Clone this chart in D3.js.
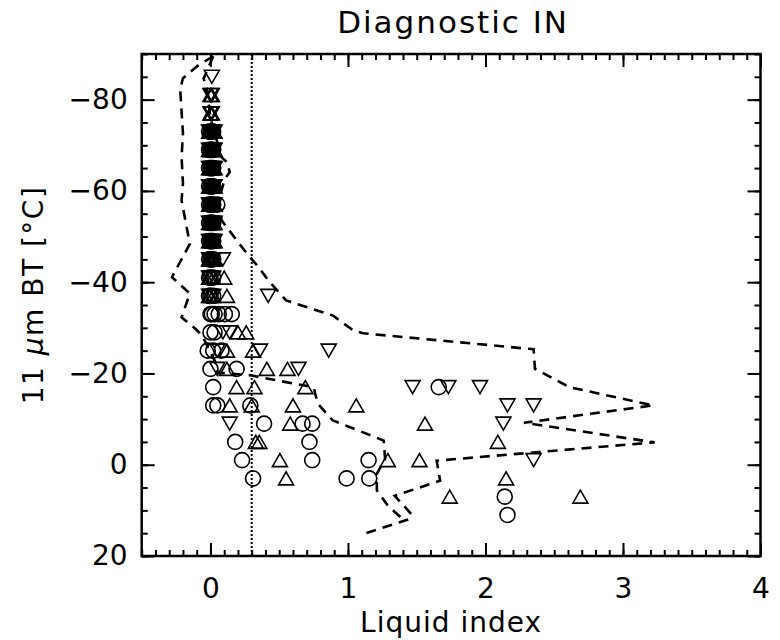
<!DOCTYPE html>
<html><head><meta charset="utf-8">
<script src="https://cdn.jsdelivr.net/npm/d3@7"></script>
<style>body{margin:0;background:#fff}svg text{font-family:"DejaVu Sans","Liberation Sans",sans-serif;font-weight:400;fill:#000}</style>
</head><body>
<svg id="chart" width="780" height="640"></svg>
<script>
// ---------- data ----------
const chartTitle = "Diagnostic IN";
const xTitle = "Liquid index";
const xDomain = [-0.5, 4];
const yDomain = [-90, 20];
const xMajorTicks = [0, 1, 2, 3, 4];
const yMajorTicks = [-80, -60, -40, -20, 0, 20];
const liquidThreshold = 0.3;

// circles
const circleX = [-0.01,0.00,0.01,0.02, -0.01,0.00,0.01,0.02, -0.01,0.00,0.01,0.02, -0.01,0.00,0.01,0.02,
  -0.01,0.00,0.01,0.02,0.05, -0.01,0.00,0.01,0.02, -0.01,0.00,0.01,0.02, -0.01,0.00,0.01,0.02,
  -0.01,0.00,0.02, -0.01,0.00,0.02, 0.00,0.01,0.03,0.06,0.105,0.155, 0.00,0.03, -0.02,0.02,0.08, 0.00,0.19, 0.02,1.66,
  0.02,0.05,0.29, 0.39,0.67,0.74, 0.18,0.72, 0.23,0.74,1.15, 0.31,0.99,1.155, 2.14, 2.16];
const circleY = [-73,-73,-73,-73, -69,-69,-69,-69, -65,-65,-65,-65, -61,-61,-61,-61,
  -57,-57,-57,-57,-57, -53,-53,-53,-53, -49,-49,-49,-49, -45,-45,-45,-45,
  -41,-41,-41, -37,-37,-37, -33,-33,-33,-33,-33,-33, -29,-29, -25,-25,-25, -21,-21, -17,-17,
  -13,-13,-13, -9,-9,-9, -5,-5, -1,-1,-1, 3,3,3, 7, 11];

// upward triangles
const upX = [0.00,0.01, 0.00,0.01, -0.01,0.00,0.01,0.02,0.03, -0.01,0.00,0.01,0.02,0.03, -0.01,0.00,0.01,0.02,0.03,
  -0.01,0.00,0.01,0.02,0.03, -0.01,0.00,0.01,0.02,0.03, -0.01,0.00,0.01,0.02,0.03, -0.01,0.00,0.01,0.02,0.03,
  -0.01,0.00,0.01,0.02,0.03, -0.01,0.00,0.02,0.10, -0.01,0.00,0.02,0.12,
  0.20,0.26, 0.12,0.31, 0.12,0.41,0.56, 0.19,0.32,0.69, 0.14,0.30,0.60,1.06, 0.58,1.56,
  0.33,0.355,2.09, 0.505,1.29,1.52, 0.55,2.15, 1.74,2.69];
const upY = [-81,-81, -77,-77, -73,-73,-73,-73,-73, -69,-69,-69,-69,-69, -65,-65,-65,-65,-65,
  -61,-61,-61,-61,-61, -57,-57,-57,-57,-57, -53,-53,-53,-53,-53, -49,-49,-49,-49,-49,
  -45,-45,-45,-45,-45, -41,-41,-41,-41, -37,-37,-37,-37,
  -29,-29, -25,-25, -21,-21,-21, -17,-17,-17, -13,-13,-13,-13, -9,-9,
  -5,-5,-5, -1,-1,-1, 3,3, 7,7];

// downward triangles
const downX = [0.01, 0.00,0.01, 0.00,0.01, -0.01,0.00,0.01,0.02,0.03, -0.01,0.00,0.01,0.02,0.03,
  -0.01,0.00,0.01,0.02,0.03, -0.01,0.00,0.01,0.02,0.03, -0.01,0.00,0.01,0.02,0.03, -0.01,0.00,0.01,0.02,0.03,
  -0.01,0.00,0.01,0.02,0.03, -0.01,0.00,0.01,0.02,0.09, -0.01,0.00,0.02, -0.01,0.00,0.02,0.42,
  0.09,0.14, 0.05,0.36,0.86, 0.05,0.64, 1.47,1.73,1.96, 2.16,2.35, 0.14,2.13, 2.35];
const downY = [-85, -81,-81, -77,-77, -73,-73,-73,-73,-73, -69,-69,-69,-69,-69,
  -65,-65,-65,-65,-65, -61,-61,-61,-61,-61, -57,-57,-57,-57,-57, -53,-53,-53,-53,-53,
  -49,-49,-49,-49,-49, -45,-45,-45,-45,-45, -41,-41,-41, -37,-37,-37,-37,
  -29,-29, -25,-25,-25, -21,-21, -17,-17,-17, -13,-13, -9,-9, -1];

// dashed envelopes
const leftEnvX = [0.02,-0.09,-0.20,-0.22,-0.20,-0.21,-0.20,-0.21,-0.15,-0.28,-0.15,-0.21,-0.11,-0.06,
  0.04,0.05,0.29,0.55,0.75,0.78,0.89,1.26,1.27,1.21,1.21,1.29,1.41];
const leftEnvY = [-89.5,-87.5,-84.7,-82.2,-72.6,-67.4,-61.6,-57.9,-48.4,-41.1,-37.5,-32.3,-29.8,-28.3,
  -22.2,-20.2,-19.6,-18.1,-17.0,-13.4,-9.7,-5.3,-1.3,2.0,5.6,9.0,12.2];
const rightEnvX = [0.02,-0.05,-0.03,0.00,0.08,0.12,0.14,0.105,0.06,0.08,0.19,0.275,0.35,0.42,0.55,
  0.89,1.04,1.11,2.35,2.36,2.61,3.22,2.28,3.23,1.645,1.67,1.34,1.46,1.45,1.11];
const rightEnvY = [-89.5,-84.6,-83.0,-76.0,-67.4,-66.3,-64.1,-62.7,-58.0,-53.6,-49.2,-45.9,-43.3,-40.4,-36.0,
  -32.7,-29.4,-28.8,-25.3,-21.0,-17.0,-13.0,-9.2,-4.9,-0.9,3.5,6.8,10.8,11.9,15.2];

// ---------- drawing ----------
const svg = d3.select("#chart");
const L = 141.7, R = 760.5, T = 54, B = 556;
const x = d3.scaleLinear().domain(xDomain).range([L, R]);
const y = d3.scaleLinear().domain(yDomain).range([T, B]);

const xMinorTicks = d3.range(-5, 41).map(i => i / 10);
const yMinorTicks = d3.range(-90, 21, 5);
const MAJ = 13, MIN = 6;

function styleAxis(g) {
  g.select(".domain").remove();
  g.selectAll(".tick line").attr("stroke", "#000").attr("stroke-width", 2);
}
// bottom
svg.append("g").attr("transform", `translate(0,${B})`)
  .call(d3.axisBottom(x).tickValues(xMinorTicks).tickSize(-MIN).tickFormat("")).call(styleAxis);
svg.append("g").attr("transform", `translate(0,${B})`)
  .call(d3.axisBottom(x).tickValues(xMajorTicks).tickSize(-MAJ).tickPadding(22).tickFormat(d3.format("d")))
  .call(styleAxis)
  .call(g => g.selectAll("text").attr("font-size", 28).attr("fill", "#000").attr("font-family", null));
// top
svg.append("g").attr("transform", `translate(0,${T})`)
  .call(d3.axisTop(x).tickValues(xMinorTicks).tickSize(-MIN).tickFormat("")).call(styleAxis);
svg.append("g").attr("transform", `translate(0,${T})`)
  .call(d3.axisTop(x).tickValues(xMajorTicks).tickSize(-MAJ).tickFormat("")).call(styleAxis);
// left
svg.append("g").attr("transform", `translate(${L},0)`)
  .call(d3.axisLeft(y).tickValues(yMinorTicks).tickSize(-MIN).tickFormat("")).call(styleAxis);
svg.append("g").attr("transform", `translate(${L},0)`)
  .call(d3.axisLeft(y).tickValues(yMajorTicks).tickSize(-MAJ).tickPadding(14)
    .tickFormat(d => d < 0 ? "\u2212" + Math.abs(d) : String(d)))
  .call(styleAxis)
  .call(g => g.selectAll("text").attr("font-size", 28).attr("fill", "#000").attr("font-family", null));
// right
svg.append("g").attr("transform", `translate(${R},0)`)
  .call(d3.axisRight(y).tickValues(yMinorTicks).tickSize(-MIN).tickFormat("")).call(styleAxis);
svg.append("g").attr("transform", `translate(${R},0)`)
  .call(d3.axisRight(y).tickValues(yMajorTicks).tickSize(-MAJ).tickFormat("")).call(styleAxis);

// frame
svg.append("rect").attr("x", L).attr("y", T).attr("width", R - L).attr("height", B - T)
  .attr("fill", "none").attr("stroke", "#000").attr("stroke-width", 2.5);

// dotted threshold
svg.append("line").attr("x1", x(liquidThreshold)).attr("x2", x(liquidThreshold))
  .attr("y1", T).attr("y2", B).attr("stroke", "#000").attr("stroke-width", 2)
  .attr("stroke-dasharray", "2,2");

// markers
const mk = svg.append("g").attr("fill", "none").attr("stroke", "#000").attr("stroke-width", 1.6);
const circles = circleX.map((v, i) => ({x: v, y: circleY[i]}));
const ups = upX.map((v, i) => ({x: v, y: upY[i]}));
const downs = downX.map((v, i) => ({x: v, y: downY[i]}));
mk.selectAll("circle").data(circles).join("circle")
  .attr("cx", d => x(d.x)).attr("cy", d => y(d.y)).attr("r", 7.5);
const hw = 7.5, hh = 6.5;
mk.selectAll("path.up").data(ups).join("path").attr("class", "up")
  .attr("d", d => { const cx = x(d.x), cy = y(d.y);
    return `M${cx - hw},${cy + hh}L${cx + hw},${cy + hh}L${cx},${cy - hh}Z`; });
mk.selectAll("path.down").data(downs).join("path").attr("class", "down")
  .attr("d", d => { const cx = x(d.x), cy = y(d.y);
    return `M${cx - hw},${cy - hh}L${cx + hw},${cy - hh}L${cx},${cy + hh}Z`; });

// dashed envelopes
const line = d3.line().x(d => x(d[0])).y(d => y(d[1]));
[[leftEnvX, leftEnvY], [rightEnvX, rightEnvY]].forEach(([xs, ys]) => {
  svg.append("path").datum(xs.map((v, i) => [v, ys[i]]))
    .attr("d", line).attr("fill", "none").attr("stroke", "#000")
    .attr("stroke-width", 2.6).attr("stroke-dasharray", "10,7");
});

// titles
svg.append("text").attr("x", (L + R) / 2 + 2).attr("y", 33).attr("text-anchor", "middle")
  .attr("font-size", 31).attr("letter-spacing", 2).text(chartTitle);
svg.append("text").attr("x", (L + R) / 2).attr("y", 632).attr("text-anchor", "middle")
  .attr("font-size", 28).attr("letter-spacing", 1).text(xTitle);
const yt = svg.append("text").attr("transform", `translate(43,${(T + B) / 2 - 10}) rotate(-90)`)
  .attr("text-anchor", "middle").attr("font-size", 28).attr("letter-spacing", 1.5);
yt.append("tspan").text("11 ");
yt.append("tspan").attr("font-style", "italic").text("\u03bc");
yt.append("tspan").text("m BT [\u00b0C]");
</script>
</body></html>
